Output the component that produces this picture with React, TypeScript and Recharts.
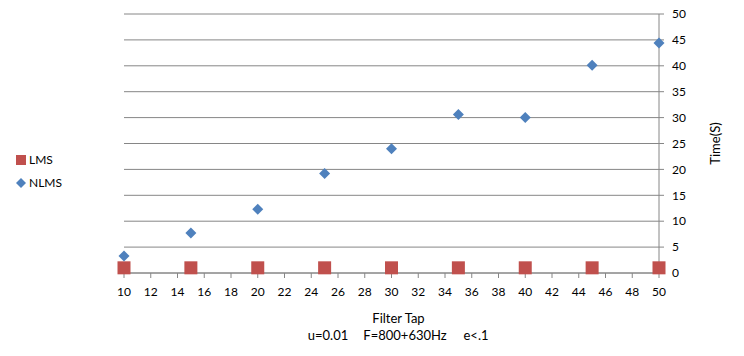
import React from 'react';
import { ScatterChart, Scatter, XAxis, YAxis, CartesianGrid } from 'recharts';

const filterTaps = [10, 15, 20, 25, 30, 35, 40, 45, 50];
const lmsTimes = [1, 1, 1, 1, 1, 1, 1, 1, 1];
const nlmsTimes = [3.3, 7.7, 12.3, 19.2, 24, 30.6, 30, 40.1, 44.4];
const xTicks = [10, 12, 14, 16, 18, 20, 22, 24, 26, 28, 30, 32, 34, 36, 38, 40, 42, 44, 46, 48, 50];
const yTicks = [0, 5, 10, 15, 20, 25, 30, 35, 40, 45, 50];

const LMS_COLOR = '#c0504d';
const NLMS_COLOR = '#4f81bd';
const AXIS_COLOR = '#868686';
const FONT = 'Lato, "Open Sans", sans-serif';

const lmsData = filterTaps.map((x, i) => ({ x, y: lmsTimes[i] }));
const nlmsData = filterTaps.map((x, i) => ({ x, y: nlmsTimes[i] }));

function SquareShape({ cx, cy }: any) {
  return <rect x={cx - 6.5} y={cy - 6.5} width={13} height={13} fill={LMS_COLOR} />;
}

function DiamondShape({ cx, cy }: any) {
  const r = 5.5;
  return (
    <polygon
      points={`${cx},${cy - r} ${cx + r},${cy} ${cx},${cy + r} ${cx - r},${cy}`}
      fill={NLMS_COLOR}
    />
  );
}

function XTitle({ viewBox }: any) {
  const cx = viewBox.x + viewBox.width / 2 + 7;
  return (
    <g fontFamily={FONT} fontSize={13} fill="#000">
      <text x={cx} y={323} textAnchor="middle">Filter Tap</text>
      <text x={328} y={340} textAnchor="middle">u=0.01</text>
      <text x={405} y={340} textAnchor="middle">F=800+630Hz</text>
      <text x={476} y={340} textAnchor="middle">e&lt;.1</text>
    </g>
  );
}

function YTitle({ viewBox }: any) {
  const x = viewBox.x + 61;
  const y = viewBox.y + viewBox.height / 2;
  return (
    <text
      x={x}
      y={y}
      transform={`rotate(-90, ${x}, ${y})`}
      textAnchor="middle"
      fontFamily={FONT}
      fontSize={13}
      fill="#000"
    >
      Time(S)
    </text>
  );
}

export default function App() {
  return (
    <div style={{ position: 'absolute', left: 0, top: 0, width: 744, height: 356, background: '#fff' }}>
      <ScatterChart width={744} height={356} margin={{ top: 14, right: 0, bottom: 0, left: 124 }}>
        <CartesianGrid horizontal vertical={false} stroke={AXIS_COLOR} />
        <XAxis
          type="number"
          dataKey="x"
          domain={[10, 50]}
          ticks={xTicks}
          interval={0}
          height={83}
          stroke={AXIS_COLOR}
          tickSize={5}
          tickMargin={9}
          tick={{ fill: '#000', fontSize: 12, fontFamily: FONT }}
          label={<XTitle />}
        />
        <YAxis
          type="number"
          dataKey="y"
          orientation="right"
          domain={[0, 50]}
          ticks={yTicks}
          interval={0}
          width={85}
          stroke={AXIS_COLOR}
          tickSize={5}
          tickMargin={8}
          tick={{ fill: '#000', fontSize: 12, fontFamily: FONT }}
          label={<YTitle />}
        />
        <Scatter name="LMS" data={lmsData} shape={<SquareShape />} isAnimationActive={false} />
        <Scatter name="NLMS" data={nlmsData} shape={<DiamondShape />} isAnimationActive={false} />
      </ScatterChart>
      <div
        style={{
          position: 'absolute',
          left: 16,
          top: 148,
          fontFamily: FONT,
          fontSize: 12,
          color: '#000',
          lineHeight: '23px',
        }}
      >
        <div style={{ display: 'flex', alignItems: 'center' }}>
          <span style={{ width: 10, height: 10, background: LMS_COLOR, marginRight: 3 }} />
          LMS
        </div>
        <div style={{ display: 'flex', alignItems: 'center' }}>
          <svg width={10} height={10} style={{ marginRight: 3 }}>
            <polygon points="5,0 10,5 5,10 0,5" fill={NLMS_COLOR} />
          </svg>
          NLMS
        </div>
      </div>
    </div>
  );
}
